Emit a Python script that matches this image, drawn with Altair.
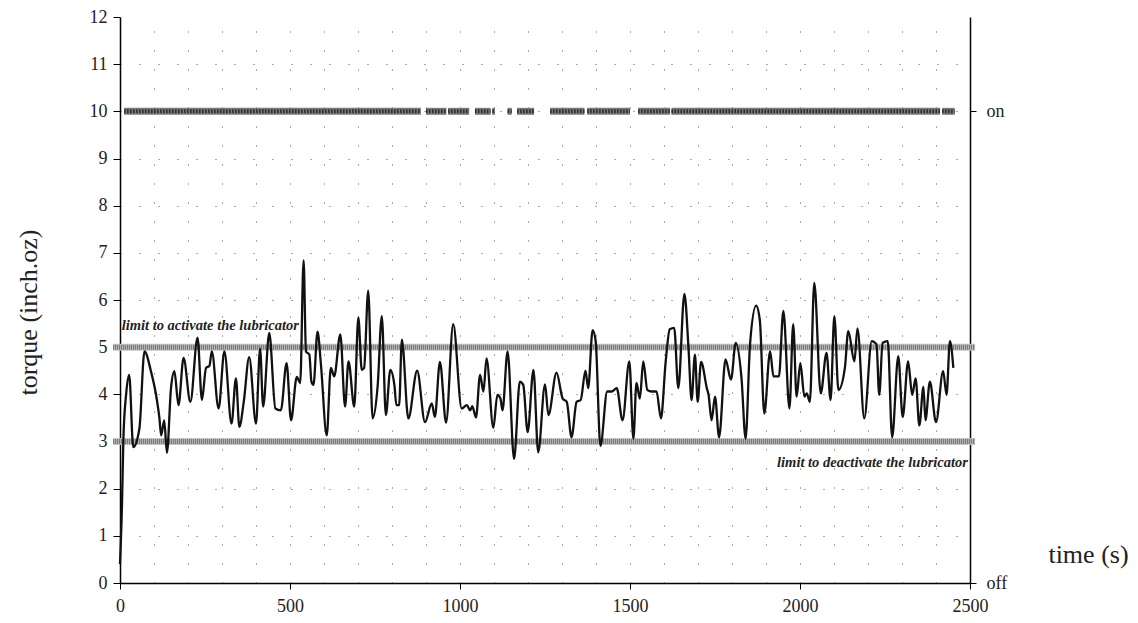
import altair as alt
import pandas as pd

FONT = "Liberation Serif"

# ---- torque curve (time in s, torque in inch.oz) ----
time_s = [0, 6, 10, 18, 27, 39, 57, 72, 91, 106, 116, 121, 130, 138, 150, 160, 172, 187,
          207, 228, 241, 253, 263, 270, 290, 307, 328, 341, 351, 364, 380, 400, 412, 421,
          439, 457, 473, 490, 503, 520, 530, 540, 547, 557, 563, 569, 581, 591, 608, 620,
          630, 648, 662, 672, 689, 701, 711, 718, 730, 743, 758, 770, 782, 795, 807, 813,
          821, 829, 848, 874, 897, 917, 926, 941, 959, 980, 1005, 1020, 1030, 1036, 1047,
          1059, 1069, 1078, 1098, 1110, 1119, 1125, 1140, 1159, 1176, 1186, 1199, 1216,
          1230, 1250, 1260, 1284, 1302, 1314, 1328, 1343, 1355, 1369, 1377, 1390, 1399,
          1413, 1433, 1446, 1461, 1478, 1498, 1510, 1519, 1529, 1539, 1551, 1564, 1578,
          1591, 1605, 1617, 1630, 1642, 1660, 1672, 1681, 1691, 1699, 1709, 1726, 1731,
          1740, 1750, 1762, 1781, 1797, 1811, 1828, 1840, 1853, 1871, 1882, 1895, 1912,
          1922, 1938, 1951, 1969, 1980, 1990, 2001, 2013, 2020, 2029, 2042, 2061, 2078,
          2090, 2101, 2113, 2132, 2142, 2160, 2169, 2189, 2211, 2225, 2233, 2243, 2258,
          2271, 2289, 2302, 2318, 2330, 2340, 2351, 2363, 2369, 2382, 2400, 2421, 2431,
          2441, 2451]
torque = [0.4, 1.7, 3.06, 4.0, 4.41, 2.88, 3.27, 4.91, 4.49, 3.99, 3.49, 3.13, 3.45, 2.76,
          4.13, 4.49, 3.77, 4.77, 3.84, 5.2, 3.88, 4.56, 4.6, 4.91, 3.7, 4.91, 3.38, 4.34,
          3.31, 3.84, 4.79, 3.38, 4.97, 3.74, 5.3, 3.7, 3.66, 4.66, 3.45, 4.37, 4.24, 6.84,
          4.91, 4.84, 4.27, 4.2, 5.33, 4.63, 3.13, 4.56, 4.38, 5.27, 3.74, 4.7, 3.74, 5.63,
          4.52, 4.56, 6.2, 3.49, 4.2, 5.66, 3.56, 4.52, 4.2, 3.77, 3.77, 5.16, 3.49, 4.5,
          3.41, 3.81, 3.52, 4.69, 3.4, 5.49, 3.7, 3.77, 3.66, 3.75, 3.51, 4.41, 4.06, 4.76,
          3.29, 3.99, 3.91, 3.66, 4.91, 2.63, 4.27, 4.2, 3.2, 4.52, 2.77, 4.21, 3.56, 4.46,
          3.91, 3.84, 3.09, 3.84, 3.88, 4.5, 4.13, 5.36, 5.13, 2.91, 4.06, 4.06, 4.13, 3.45,
          4.7, 3.06, 4.24, 3.91, 4.7, 4.09, 4.06, 4.06, 3.49, 4.7, 5.38, 5.41, 4.13, 6.13,
          4.99, 3.88, 4.84, 3.84, 4.69, 4.13, 3.99, 3.45, 3.95, 3.09, 4.74, 4.31, 5.09,
          4.34, 3.06, 5.06, 5.88, 5.56, 3.59, 4.91, 4.38, 4.38, 5.77, 3.7, 5.49, 3.95,
          4.66, 3.95, 4.02, 3.84, 6.36, 4.02, 4.88, 3.88, 5.66, 4.09, 4.56, 5.34, 4.7, 5.4,
          3.49, 5.13, 5.06, 3.99, 5.09, 5.13, 3.09, 4.81, 3.52, 4.7, 3.99, 4.34, 3.34,
          4.16, 3.45, 4.27, 3.41, 4.49, 3.99, 5.13, 4.56]

# ---- lubricator state "on" periods (s) ----
on_start = [12, 900, 965, 1044, 1095, 1140, 1168, 1265, 1374, 1524, 1622, 2418]
on_end = [885, 960, 1027, 1090, 1103, 1152, 1218, 1366, 1500, 1618, 2412, 2455]
on_level = 10

# ---- limits ----
limit_values = [5, 3]
limit_from = -20
limit_to = 2515
note_activate = "limit to activate the lubricator"
note_deactivate = "limit to deactivate the lubricator"

# ---- axes ----
x_tick_values = [0, 500, 1000, 1500, 2000, 2500]
x_grid_values = [100, 200, 300, 400, 500, 600, 700, 800, 900, 1000, 1100, 1200, 1300,
                 1400, 1500, 1600, 1700, 1800, 1900, 2000, 2100, 2200, 2300, 2400]
y_tick_values = [0, 1, 2, 3, 4, 5, 6, 7, 8, 9, 10, 11, 12]
state_values = [0, 10]

curve = pd.DataFrame({"t": time_s, "torque": torque})
on_df = pd.DataFrame({"start": on_start, "end": on_end,
                      "level": [on_level] * len(on_start)})
limits_df = pd.DataFrame({"start": [limit_from] * len(limit_values),
                          "end": [limit_to] * len(limit_values),
                          "value": limit_values})
note_a = pd.DataFrame({"t": [5], "v": [5.45], "text": [note_activate]})
note_d = pd.DataFrame({"t": [2494], "v": [2.55], "text": [note_deactivate]})

xs = alt.Scale(domain=[0, 2500], nice=False, zero=False)
ys = alt.Scale(domain=[0, 12], nice=False, zero=False)

line = alt.Chart(curve).mark_line(color="#111111", strokeWidth=2.3, interpolate="monotone").encode(
    x=alt.X("t:Q", scale=xs, axis=alt.Axis(
        values=x_tick_values, grid=False, format="d", labelFlush=False,
        title="time (s)", titleX=968, titleY=-29, titleAlign="center", titleBaseline="middle",
        titleFont=FONT, titleFontSize=26, titleFontWeight="normal", titleColor="#222222",
        labelFont=FONT, labelFontSize=18, labelColor="#222222", labelPadding=8,
        tickSize=6, tickColor="black", domainColor="black", domainWidth=1.5)),
    y=alt.Y("torque:Q", scale=ys, axis=alt.Axis(
        values=y_tick_values, grid=True, gridDash=[1, 18], gridColor="#555555",
        gridOpacity={"condition": {"test": "datum.value === 12", "value": 0}, "value": 1},
        title="torque (inch.oz)", titleX=-92, titleY=295, titleAngle=-90,
        titleAlign="center", titleBaseline="middle",
        titleFont=FONT, titleFontSize=26, titleFontWeight="normal", titleColor="#222222",
        labelFont=FONT, labelFontSize=18, labelColor="#222222", labelPadding=6,
        tickSize=7, tickColor="black", domainColor="black", domainWidth=1.5)),
)

on_base = alt.Chart(on_df).mark_rule(color="#7a7a7a", strokeWidth=7).encode(
    x=alt.X("start:Q", scale=xs, axis=alt.Axis(
        orient="top", values=x_grid_values, grid=True, gridDash=[1, 18],
        gridColor="#555555", labels=False, ticks=False, domain=False, title=None)),
    x2="end:Q",
    y=alt.Y("level:Q", scale=ys, axis=alt.Axis(
        orient="right", values=state_values,
        labelExpr="datum.value == 10 ? 'on' : 'off'", grid=False, title=None,
        labelFont=FONT, labelFontSize=18, labelColor="#222222", labelPadding=10,
        tickSize=6, tickColor="black", domainColor="black", domainWidth=1.5)),
)
on_top = alt.Chart(on_df).mark_rule(color="#2a2a2a", strokeWidth=4, strokeDash=[1.5, 1.5]).encode(
    x=alt.X("start:Q", scale=xs, axis=None), x2="end:Q",
    y=alt.Y("level:Q", scale=ys, axis=None),
)

lim_base = alt.Chart(limits_df).mark_rule(color="#c4c4c4", strokeWidth=7).encode(
    x=alt.X("start:Q", scale=xs, axis=None), x2="end:Q",
    y=alt.Y("value:Q", scale=ys, axis=None),
)
lim_top = alt.Chart(limits_df).mark_rule(color="#6a6a6a", strokeWidth=5, strokeDash=[1, 1]).encode(
    x=alt.X("start:Q", scale=xs, axis=None), x2="end:Q",
    y=alt.Y("value:Q", scale=ys, axis=None),
)

text_a = alt.Chart(note_a).mark_text(
    align="left", baseline="middle", font=FONT, fontSize=14.5, fontStyle="italic",
    fontWeight="bold", color="#222222").encode(
    x=alt.X("t:Q", scale=xs, axis=None), y=alt.Y("v:Q", scale=ys, axis=None), text="text:N")
text_d = alt.Chart(note_d).mark_text(
    align="right", baseline="middle", font=FONT, fontSize=14.5, fontStyle="italic",
    fontWeight="bold", color="#222222").encode(
    x=alt.X("t:Q", scale=xs, axis=None), y=alt.Y("v:Q", scale=ys, axis=None), text="text:N")

chart = alt.layer(on_base, on_top, lim_base, lim_top, line, text_a, text_d).resolve_axis(
    x="independent", y="independent"
).properties(
    width=850, height=566,
    padding={"left": 120, "top": 17, "right": 168, "bottom": 40},
    autosize=alt.AutoSizeParams(type="none"),
    background="white",
).configure_view(stroke=None)

chart.save("out.html", embed_options={"renderer": "svg", "actions": False})
